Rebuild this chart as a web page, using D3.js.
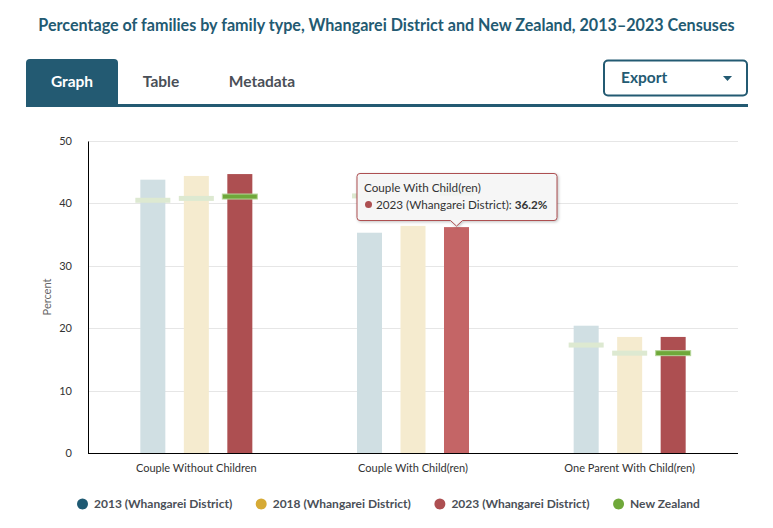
<!DOCTYPE html>
<html>
<head>
<meta charset="UTF-8">
<title>Families by family type</title>
<script src="https://cdn.jsdelivr.net/npm/d3@7"></script>
<style>
  body { margin: 0; background: #fff; }
  svg { display: block; font-family: Lato, "Open Sans", sans-serif; }
</style>
</head>
<body>
<svg id="chart" width="773" height="528"></svg>
<script>
// data
var categories = ["Couple Without Children", "Couple With Child(ren)", "One Parent With Child(ren)"];
var seriesNames = ["2013 (Whangarei District)", "2018 (Whangarei District)", "2023 (Whangarei District)"];
var whangarei2013 = [43.8, 35.3, 20.4];
var whangarei2018 = [44.4, 36.4, 18.6];
var whangarei2023 = [44.7, 36.2, 18.6];
var nz2013 = [40.5, 41.2, 17.3];
var nz2018 = [40.8, 41.4, 16.0];
var nz2023 = [41.1, 41.6, 16.0];
var yTicks = [0, 10, 20, 30, 40, 50];
var legendNames = ["2013 (Whangarei District)", "2018 (Whangarei District)", "2023 (Whangarei District)", "New Zealand"];
var legendColors = ["#1f5a73", "#d6aa35", "#ad4f51", "#6fa83a"];

var barValues = [whangarei2013, whangarei2018, whangarei2023];
var nzValues = [nz2013, nz2018, nz2023];
var barFill = ["#d0dfe3", "#f5ebcf", "#ad4f51"];   // 2023 highlighted, others faded
var hoverFill = "#c46566";
var hovered = { cat: 1, s: 2 };

var svg = d3.select("#chart");
var teal = "#235a72";

// title
var title = svg.append("text")
  .attr("x", 386.5).attr("y", 30.5)
  .attr("text-anchor", "middle")
  .attr("fill", teal)
  .style("font-size", "15px").style("font-weight", 700)
  .text("Percentage of families by family type, Whangarei District and New Zealand, 2013\u20132023 Censuses");
var tw = title.node().getComputedTextLength();
title.style("font-size", (15 * 697 / tw) + "px");

// tabs
svg.append("path")
  .attr("d", "M26,106 V63 Q26,59 30,59 H114 Q118,59 118,63 V106 Z")
  .attr("fill", teal);
svg.append("rect").attr("x", 26).attr("y", 104).attr("width", 722).attr("height", 3).attr("fill", teal);
var tabs = [["Graph", 72, "#fff"], ["Table", 161, "#4a4f57"], ["Metadata", 262, "#4a4f57"]];
svg.selectAll("text.tab").data(tabs).join("text")
  .attr("class", "tab")
  .attr("x", function(d) { return d[1]; }).attr("y", 87)
  .attr("text-anchor", "middle")
  .attr("fill", function(d) { return d[2]; })
  .style("font-size", "15.5px").style("font-weight", 700)
  .text(function(d) { return d[0]; });

// export button
svg.append("rect")
  .attr("x", 604).attr("y", 60.5).attr("width", 143).attr("height", 35).attr("rx", 4)
  .attr("fill", "#fff").attr("stroke", teal).attr("stroke-width", 2);
svg.append("text")
  .attr("x", 621).attr("y", 83)
  .attr("fill", teal)
  .style("font-size", "15.5px").style("font-weight", 700)
  .text("Export");
svg.append("path").attr("d", "M723,76 L732,76 L727.5,81 Z").attr("fill", teal);

// chart area
var plotLeft = 88, plotRight = 738, plotTop = 141, plotBottom = 453;
var y = d3.scaleLinear().domain([0, 50]).range([plotBottom, plotTop]);
var x0 = d3.scaleBand().domain(categories).range([plotLeft, plotRight]);
var bw = x0.bandwidth();
var x1 = d3.scaleBand().domain(seriesNames)
  .range([bw / 2 - 65.25, bw / 2 + 65.25])
  .paddingInner(0.425).paddingOuter(0.2125);

// gridlines
svg.append("g").selectAll("line").data(yTicks.slice(1)).join("line")
  .attr("x1", plotLeft).attr("x2", plotRight)
  .attr("y1", function(d) { return Math.round(y(d)) + 0.5; })
  .attr("y2", function(d) { return Math.round(y(d)) + 0.5; })
  .attr("stroke", "#e6e6e6");

// y axis
var yAxis = svg.append("g")
  .attr("transform", "translate(" + plotLeft + ",0)")
  .call(d3.axisLeft(y).tickValues(yTicks).tickSize(0).tickPadding(16));
yAxis.select(".domain").attr("stroke", "#000");
yAxis.selectAll("text").attr("fill", "#333").style("font-size", "11px").style("font-family", "Lato, sans-serif");

svg.append("text")
  .attr("transform", "translate(51," + ((plotTop + plotBottom) / 2) + ") rotate(-90)")
  .attr("text-anchor", "middle")
  .attr("fill", "#666")
  .style("font-size", "11px")
  .text("Percent");

// bars
var groups = svg.append("g").selectAll("g").data(categories).join("g")
  .attr("transform", function(d) { return "translate(" + x0(d) + ",0)"; });

groups.each(function(cat, ci) {
  var g = d3.select(this);
  seriesNames.forEach(function(s, si) {
    var v = barValues[si][ci];
    g.append("rect")
      .attr("x", x1(s)).attr("width", x1.bandwidth())
      .attr("y", y(v)).attr("height", y(0) - y(v))
      .attr("fill", (hovered.cat === ci && hovered.s === si) ? hoverFill : barFill[si]);
  });
  // New Zealand markers
  seriesNames.forEach(function(s, si) {
    var v = nzValues[si][ci];
    var active = si === 2;
    g.append("rect")
      .attr("x", x1(s) - 5).attr("width", x1.bandwidth() + 10)
      .attr("y", y(v) - 2.5).attr("height", 5)
      .attr("fill", active ? "#6fa83a" : "#dde9d1")
      .attr("stroke", active ? "#b6d69a" : "none")
      .attr("stroke-width", 1);
  });
});

// x baseline and labels
svg.append("line")
  .attr("x1", plotLeft).attr("x2", plotRight)
  .attr("y1", plotBottom + 0.5).attr("y2", plotBottom + 0.5)
  .attr("stroke", "#000");
svg.append("g").selectAll("text").data(categories).join("text")
  .attr("x", function(d) { return x0(d) + bw / 2; })
  .attr("y", 472)
  .attr("text-anchor", "middle")
  .attr("fill", "#333")
  .style("font-size", "11px")
  .text(function(d) { return d; });

// legend
var legend = svg.append("g");
var lx = 82.5;
legendNames.forEach(function(name, i) {
  legend.append("circle").attr("cx", lx).attr("cy", 504).attr("r", 5.5).attr("fill", legendColors[i]);
  var t = legend.append("text")
    .attr("x", lx + 11.5).attr("y", 508)
    .attr("fill", "#4a4f57")
    .style("font-size", "12px").style("font-weight", 700)
    .text(name);
  lx = lx + 11.5 + t.node().getComputedTextLength() + 29;
});

// tooltip on hovered bar
var hc = categories[hovered.cat];
var tipX = x0(hc) + x1(seriesNames[hovered.s]) + x1.bandwidth() / 2;
var tipY = y(barValues[hovered.s][hovered.cat]) - 1;
var tip = svg.append("g");
var bx = 357, by = 173.5, bwid = 200, bh = 47;
tip.append("path")
  .attr("d", "M" + (bx + 3) + "," + by + " H" + (bx + bwid - 3) + " Q" + (bx + bwid) + "," + by + " " + (bx + bwid) + "," + (by + 3) +
    " V" + (by + bh - 3) + " Q" + (bx + bwid) + "," + (by + bh) + " " + (bx + bwid - 3) + "," + (by + bh) +
    " H" + (tipX + 6) + " L" + tipX + "," + tipY + " L" + (tipX - 6) + "," + (by + bh) +
    " H" + (bx + 3) + " Q" + bx + "," + (by + bh) + " " + bx + "," + (by + bh - 3) +
    " V" + (by + 3) + " Q" + bx + "," + by + " " + (bx + 3) + "," + by + " Z")
  .attr("fill", "rgba(248,248,248,0.96)")
  .attr("stroke", "#ad4f51").attr("stroke-width", 1)
  .style("filter", "drop-shadow(1px 1px 1.5px rgba(0,0,0,0.25))");
tip.append("text")
  .attr("x", 364).attr("y", 192)
  .attr("fill", "#333").style("font-size", "11.7px")
  .text(hc);
tip.append("circle").attr("cx", 368.5).attr("cy", 204.5).attr("r", 3.5).attr("fill", "#ad4f51");
var line2 = tip.append("text")
  .attr("x", 376).attr("y", 208.5)
  .attr("fill", "#333").style("font-size", "11.7px");
line2.append("tspan").text(seriesNames[hovered.s] + ": ");
line2.append("tspan").style("font-weight", 700).text(barValues[hovered.s][hovered.cat] + "%");
</script>
</body>
</html>
